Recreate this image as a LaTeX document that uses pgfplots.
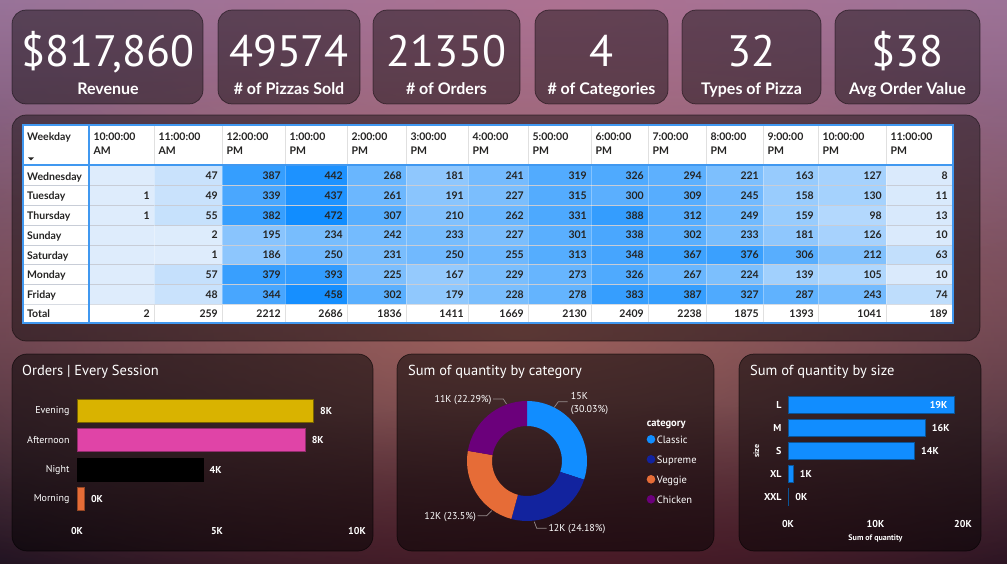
\documentclass[border=0pt]{standalone}
\usepackage{pgfplots}
\pgfplotsset{compat=1.18}
\usepackage{pgfplotstable}
\usepackage{fontspec}
\usetikzlibrary{fadings}
\setmainfont{PT Sans}
\newfontfamily\din{PT Sans}
\newfontfamily\seg{Lato}
\newcommand\tabfont{\seg\bfseries\fontsize{10.5}{12}\selectfont}

\definecolor{pbiblue}{RGB}{17,141,255}
\definecolor{pbinavy}{RGB}{18,35,158}
\definecolor{pbiorange}{RGB}{230,108,55}
\definecolor{pbipurple}{RGB}{107,0,123}
\definecolor{evey}{RGB}{217,179,0}
\definecolor{aftp}{RGB}{224,68,167}
\definecolor{tabtext}{RGB}{37,36,35}
\definecolor{tabborder}{RGB}{64,152,240}
\definecolor{lightcell}{RGB}{222,236,252}
\definecolor{rowsep}{RGB}{200,205,215}
\definecolor{bgtop}{RGB}{145,116,156}
\definecolor{bgmid}{RGB}{100,66,88}
\definecolor{bgbot}{RGB}{30,20,34}
\definecolor{glowor}{RGB}{200,120,100}
\definecolor{glowpk}{RGB}{192,112,138}
\definecolor{glowrd}{RGB}{85,22,36}
\definecolor{leader}{RGB}{150,140,140}

\tikzfading[name=glowfade, inner color=transparent!0, outer color=transparent!100]
\tikzset{chartlbl/.style={font=\din\bfseries\fontsize{10}{12}\selectfont, text=white}}
\pgfdeclareplotmark{nothing}{}

% hour columns: centre x (px), width (px), orders per weekday, total
\pgfplotstableread{
x     w   wed tue thu sun sat mon fri tot
121.5 65  0   1   1   0   0   0   0   2
188   68  47  49  55  2   1   57  48  259
253.5 63  387 339 382 195 186 379 344 2212
316   62  442 437 472 234 250 393 458 2686
376.5 59  268 261 307 242 231 225 302 1836
437   62  181 191 210 233 250 167 179 1411
498   60  241 227 262 227 255 229 228 1669
559.5 63  319 315 331 301 313 273 278 2130
619.5 57  326 300 388 338 348 326 383 2409
677   58  294 309 312 302 367 267 387 2238
734.5 57  221 245 249 233 376 224 327 1875
790.5 55  163 158 159 181 306 139 287 1393
852   68  127 130 98  126 212 105 243 1041
919   66  8   11  13  10  63  10  74  189
}\heat

% category shares (percent)
\def\pClassic{30.03}\def\pSupreme{24.18}\def\pVeggie{23.50}\def\pChicken{22.29}
\pgfmathsetmacro\aA{90}
\pgfmathsetmacro\aB{\aA-3.6*\pClassic}
\pgfmathsetmacro\aC{\aB-3.6*\pSupreme}
\pgfmathsetmacro\aD{\aC-3.6*\pVeggie}
\pgfmathsetmacro\aE{\aD-3.6*\pChicken}

\pgfplotsset{
 heatcell/.style={scatter, only marks, mark=square*, mark size=9.9pt,
   point meta=explicit,
   visualization depends on={\thisrow{w} \as \cw},
   scatter/use mapped color={draw=mapped color, fill=mapped color},
   scatter/@pre marker code/.append style={/tikz/xscale=\cw/19.8},
 },
 celltext/.style={only marks, mark=nothing,
   point meta=explicit,
   visualization depends on={\thisrow{w} \as \cw},
   nodes near coords={\pgfmathprintnumber{\pgfplotspointmeta}},
   every node near coord/.append style={anchor=east, xshift=0.5*\cw pt-4pt,
      inner sep=0pt, text=tabtext, font=\tabfont},
 },
}

\begin{document}
\begin{tikzpicture}[x=1pt,y=-1pt]
\useasboundingbox (0,0) rectangle (1007,564);
% ---------- background ----------
\shade[top color=bgtop, bottom color=bgbot, middle color=bgmid] (0,0) rectangle (1007,564);
\fill[glowpk, path fading=glowfade, fill opacity=0.6] (560,10) ellipse [x radius=760, y radius=300];
\fill[glowor, path fading=glowfade, fill opacity=0.62] (520,330) ellipse [x radius=800, y radius=300];
\fill[glowrd, path fading=glowfade, fill opacity=0.6] (600,564) ellipse [x radius=700, y radius=160];

% ---------- KPI cards ----------
\tikzset{card/.style={rounded corners=14pt, fill=black, fill opacity=0.42, draw=black, draw opacity=0.5, line width=0.7pt},
  kval/.style={text=white, font=\din\fontsize{44}{50}\selectfont, anchor=base},
  klab/.style={text=white, font=\seg\bfseries\fontsize{16}{18}\selectfont, anchor=base}}
\path[card] (12,10) rectangle (203,104);
\path[card] (218,10) rectangle (360,104);
\path[card] (373,10) rectangle (520,104);
\path[card] (535,10) rectangle (668,104);
\path[card] (682,10) rectangle (821,104);
\path[card] (835,10) rectangle (980,104);
\node[kval] at (108,67) {\$817,860};
\node[kval] at (289,67) {49574};
\node[kval] at (446.5,67) {21350};
\node[kval] at (601.5,67) {4};
\node[kval] at (751.5,67) {32};
\node[kval] at (907.5,67) {\$38};
\begin{scope}
\clip (0,0) rectangle (1007,97.5);
\node[klab] at (108,95) {Revenue};
\node[klab] at (289,95) {\# of Pizzas Sold};
\node[klab] at (446.5,95) {\# of Orders};
\node[klab] at (601.5,95) {\# of Categories};
\node[klab] at (751.5,95) {Types of Pizza};
\node[klab] at (907.5,95) {Avg Order Value};
\end{scope}

% ---------- table panel ----------
\path[card] (12,115) rectangle (980,341);
\fill[white] (23,125) rectangle (953,323);
\fill[lightcell] (89,166) rectangle (952,304);

\begin{axis}[at={(23pt,-125pt)}, anchor=north west, scale only axis,
  width=930pt, height=198pt, xmin=23, xmax=953, ymin=125, ymax=323,
  y dir=reverse, hide axis, clip=false,
  colormap={pbi}{rgb255(0cm)=(222,236,252); rgb255(1cm)=(17,141,255)},
  point meta min=0, point meta max=472,
  /pgf/number format/1000 sep={}, /pgf/number format/assume math mode=true]
\addplot[heatcell, restrict expr to domain={\thisrow{wed}}{0.5:100000}] table[x=x, y expr=175.9, meta=wed] {\heat};
\addplot[heatcell, restrict expr to domain={\thisrow{tue}}{0.5:100000}] table[x=x, y expr=195.6, meta=tue] {\heat};
\addplot[heatcell, restrict expr to domain={\thisrow{thu}}{0.5:100000}] table[x=x, y expr=215.4, meta=thu] {\heat};
\addplot[heatcell, restrict expr to domain={\thisrow{sun}}{0.5:100000}] table[x=x, y expr=235.1, meta=sun] {\heat};
\addplot[heatcell, restrict expr to domain={\thisrow{sat}}{0.5:100000}] table[x=x, y expr=254.9, meta=sat] {\heat};
\addplot[heatcell, restrict expr to domain={\thisrow{mon}}{0.5:100000}] table[x=x, y expr=274.6, meta=mon] {\heat};
\addplot[heatcell, restrict expr to domain={\thisrow{fri}}{0.5:100000}] table[x=x, y expr=294.4, meta=fri] {\heat};
\addplot[celltext, restrict expr to domain={\thisrow{wed}}{0.5:100000}] table[x=x, y expr=175.9, meta=wed] {\heat};
\addplot[celltext, restrict expr to domain={\thisrow{tue}}{0.5:100000}] table[x=x, y expr=195.6, meta=tue] {\heat};
\addplot[celltext, restrict expr to domain={\thisrow{thu}}{0.5:100000}] table[x=x, y expr=215.4, meta=thu] {\heat};
\addplot[celltext, restrict expr to domain={\thisrow{sun}}{0.5:100000}] table[x=x, y expr=235.1, meta=sun] {\heat};
\addplot[celltext, restrict expr to domain={\thisrow{sat}}{0.5:100000}] table[x=x, y expr=254.9, meta=sat] {\heat};
\addplot[celltext, restrict expr to domain={\thisrow{mon}}{0.5:100000}] table[x=x, y expr=274.6, meta=mon] {\heat};
\addplot[celltext, restrict expr to domain={\thisrow{fri}}{0.5:100000}] table[x=x, y expr=294.4, meta=fri] {\heat};
\addplot[celltext] table[x=x, y expr=313.4, meta=tot] {\heat};
\end{axis}

% grid lines of the table
\foreach \yy in {185.75,205.5,225.25,245,264.75,284.5}
  \draw[rowsep, line width=0.8pt] (23,\yy) -- (952,\yy);
\draw[rowsep!70!white, line width=0.8pt] (23,304.25) -- (952,304.25);
\foreach \xx in {154,222,285,347,406,468,528,591,648,706,763,818,886}{
  \draw[black!12, line width=0.8pt] (\xx,125) -- (\xx,165);
  \draw[black!12, line width=0.8pt] (\xx,304.5) -- (\xx,323);
  \draw[white, opacity=0.3, line width=0.8pt] (\xx,166) -- (\xx,304);}
\draw[tabborder, line width=2pt] (89,125) -- (89,323);
\draw[tabborder, line width=2pt] (23,165.5) -- (953,165.5);
\draw[tabborder, line width=1.5pt] (23,125) rectangle (953,323);

% header texts
\tikzset{hdr/.style={anchor=base west, inner sep=0pt, text=tabtext, font=\tabfont}}
\node[hdr] at (27,141) {Weekday};
\fill[tabtext] (28,157.5) -- (34,157.5) -- (31,160.5) -- cycle;
\foreach \xl/\ta/\tb in {89/10:00:00/AM, 154/11:00:00/AM, 222/12:00:00/PM, 285/1:00:00/PM,
  347/2:00:00/PM, 406/3:00:00/PM, 468/4:00:00/PM, 528/5:00:00/PM, 591/6:00:00/PM,
  648/7:00:00/PM, 706/8:00:00/PM, 763/9:00:00/PM, 818/10:00:00/PM, 886/11:00:00/PM}{
  \node[hdr] at (\xl+4.3,141) {\ta};
  \node[hdr] at (\xl+4.3,154.5) {\tb};}
\foreach \yy/\dd in {180.2/Wednesday, 199.9/Tuesday, 219.7/Thursday, 239.4/Sunday,
  259.2/Saturday, 278.9/Monday, 298.7/Friday, 317.6/Total}
  \node[hdr] at (27,\yy) {\dd};

% ---------- bottom panels ----------
\tikzset{bpanel/.style={rounded corners=15pt, fill=black, fill opacity=0.5, draw=black, draw opacity=0.6, line width=0.7pt},
  ttl/.style={anchor=base west, inner sep=0pt, text=white, font=\din\fontsize{14.5}{17}\selectfont}}
\path[bpanel] (12,354) rectangle (373,551);
\path[bpanel] (397,354) rectangle (714,551);
\path[bpanel] (739,354) rectangle (981,551);
\node[ttl] at (22,375) {Orders | Every Session};
\node[ttl] at (408,375) {Sum of quantity by category};
\node[ttl] at (750,375) {Sum of quantity by size};

% Orders by session
\begin{axis}[at={(77pt,-393.4pt)}, anchor=north west, scale only axis,
  width=280pt, height=123.2pt, xbar, bar width=23pt, bar shift=0pt,
  xmin=0, xmax=10000, ymin=-0.6, ymax=3.6, scaled x ticks=false,
  ytick={0,1,2,3}, yticklabels={Morning,Night,Afternoon,Evening},
  xtick={0,5000,10000}, xticklabels={0K,5K,10K},
  axis line style={draw=none}, tick style={draw=none}, major tick length=0pt,
  yticklabel style={font=\din\fontsize{10}{12}\selectfont, text=white, xshift=-4pt},
  xticklabel style={chartlbl, yshift=-7pt},
  nodes near coords, point meta=explicit symbolic,
  every node near coord/.append style={chartlbl, anchor=west, xshift=3pt},
  clip=false]
\addplot[fill=evey, draw=evey!55!black, line width=0.8pt] coordinates {(8446,3) [8K]};
\addplot[fill=aftp, draw=aftp!65!black, line width=0.8pt] coordinates {(8145,2) [8K]};
\addplot[fill=black, draw=black, line width=0.8pt] coordinates {(4498,1) [4K]};
\addplot[fill=pbiorange, draw=pbiorange!65!black, line width=0.8pt] coordinates {(261,0) [0K]};
\end{axis}

% Donut by category
\begin{axis}[at={(527pt,-461pt)}, anchor=center, x=1pt, y=1pt,
  xmin=-61, xmax=61, ymin=-61, ymax=61, hide axis, clip=false]
\begin{scope}[shift={(axis cs:0,0)}]
\fill[pbiblue] (\aA:60pt) arc[start angle=\aA, end angle=\aB, radius=60pt] -- (\aB:35pt) arc[start angle=\aB, end angle=\aA, radius=35pt] -- cycle;
\fill[pbinavy] (\aB:60pt) arc[start angle=\aB, end angle=\aC, radius=60pt] -- (\aC:35pt) arc[start angle=\aC, end angle=\aB, radius=35pt] -- cycle;
\fill[pbiorange] (\aC:60pt) arc[start angle=\aC, end angle=\aD, radius=60pt] -- (\aD:35pt) arc[start angle=\aD, end angle=\aC, radius=35pt] -- cycle;
\fill[pbipurple] (\aD:60pt) arc[start angle=\aD, end angle=\aE, radius=60pt] -- (\aE:35pt) arc[start angle=\aE, end angle=\aD, radius=35pt] -- cycle;
\end{scope}
\end{axis}
\tikzset{dl/.style={anchor=base west, inner sep=0pt, text=white, font=\din\fontsize{10}{12}\selectfont}}
\draw[leader, line width=0.7pt] (554.3,407.3) -- (558.3,401.7) -- (567.7,401.7);
\node[dl] at (570.7,399.3) {15K};
\node[dl] at (570.7,412.6) {(30.03\%)};
\draw[leader, line width=0.7pt] (493,399) -- (503.3,399) -- (506.5,404);
\node[dl, anchor=base east] at (491.7,402.6) {11K (22.29\%)};
\draw[leader, line width=0.7pt] (477.5,515.7) -- (486.7,515.7) -- (491.7,510.7);
\node[dl, anchor=base east] at (476,519.3) {12K (23.5\%)};
\draw[leader, line width=0.7pt] (534.3,521.7) -- (536.7,528.3) -- (546.7,528.3);
\node[dl] at (548.3,531.9) {12K (24.18\%)};
% legend
\node[anchor=base west, inner sep=0pt, text=white, font=\din\bfseries\fontsize{10.5}{12}\selectfont] at (646.7,426.5) {category};
\foreach \yy/\cc/\nn in {439.3/pbiblue/Classic, 459.3/pbinavy/Supreme, 479.3/pbiorange/Veggie, 499.3/pbipurple/Chicken}{
  \fill[\cc] (651,\yy) circle[radius=4.3pt];
  \node[anchor=base west, inner sep=0pt, text=white, font=\din\fontsize{10.5}{12}\selectfont] at (656.7,\yy+3.7) {\nn};}

% Quantity by size
\begin{axis}[at={(788pt,-390.05pt)}, anchor=north west, scale only axis,
  width=175pt, height=121.9pt, xbar, bar width=17.3pt, bar shift=0pt,
  xmin=0, xmax=20000, ymin=-0.65, ymax=4.65, scaled x ticks=false,
  ytick={0,1,2,3,4}, yticklabels={XXL,XL,S,M,L},
  xtick={0,10000,20000}, xticklabels={0K,10K,20K},
  axis line style={draw=none}, tick style={draw=none}, major tick length=0pt,
  yticklabel style={chartlbl, xshift=-3pt},
  xticklabel style={chartlbl, yshift=-5pt},
  xlabel={Sum of quantity}, ylabel={size},
  xlabel style={font=\din\bfseries\fontsize{8}{9}\selectfont, text=white, yshift=0pt},
  ylabel style={font=\din\bfseries\fontsize{8}{9}\selectfont, text=white, yshift=-2pt},
  nodes near coords, point meta=explicit symbolic,
  every node near coord/.append style={chartlbl, anchor=west, xshift=3.5pt},
  clip=false]
\addplot[fill=pbiblue, draw=pbiblue!60!black, line width=0.6pt] coordinates {(15635,3) [16K] (14403,2) [14K] (552,1) [1K] (28,0) [0K]};
\addplot[fill=pbiblue, draw=pbiblue!60!black, line width=0.6pt,
  every node near coord/.append style={anchor=east, xshift=-6.4pt}] coordinates {(18956,4) [19K]};
\end{axis}
\end{tikzpicture}
\end{document}
